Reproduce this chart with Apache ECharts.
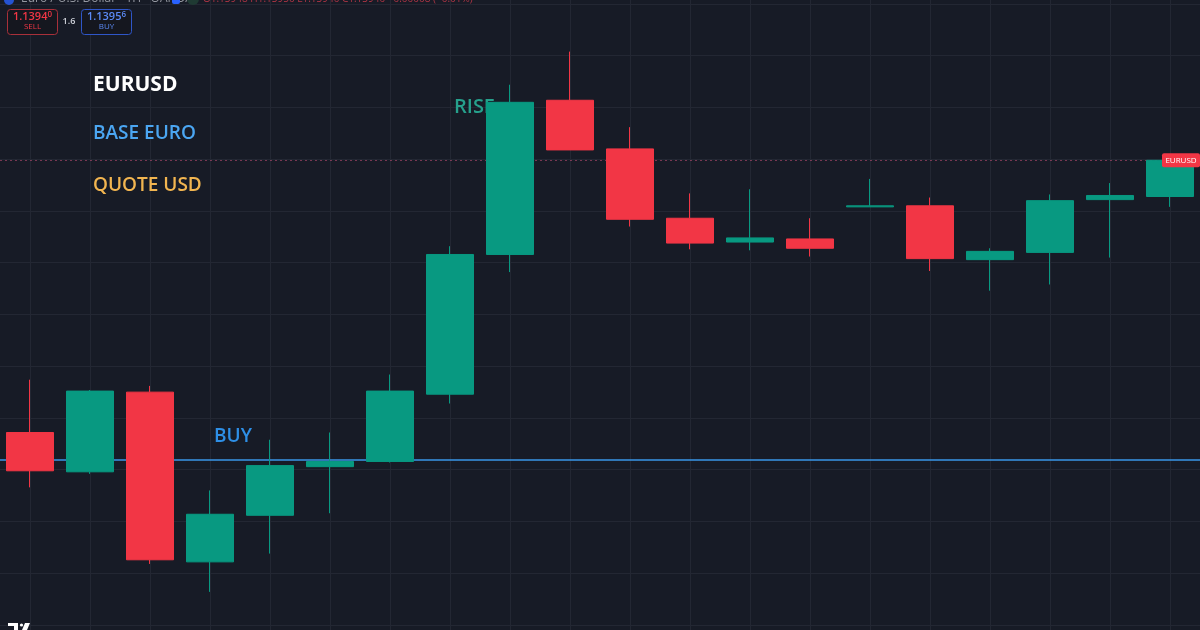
<!DOCTYPE html>
<html>
<head>
<meta charset="utf-8">
<script src="https://cdn.jsdelivr.net/npm/echarts@6/dist/echarts.min.js"></script>
<style>
html,body{margin:0;padding:0;background:#171b26;}
#c{width:1200px;height:630px;}
</style>
</head>
<body>
<div id="c"></div>
<script>
// ---- data ----
const categories = ['00:00','01:00','02:00','03:00','04:00','05:00','06:00','07:00','08:00','09:00',
                    '10:00','11:00','12:00','13:00','14:00','15:00','16:00','17:00','18:00','19:00'];
const opens  = [1.13686,1.13648,1.13725,1.13561,1.13606,1.13653,1.13658,1.13723,1.13858,1.14007,
                1.13960,1.13893,1.13870,1.13873,1.13904,1.13905,1.13853,1.13860,1.13911,1.13914];
const closes = [1.13649,1.13726,1.13563,1.13607,1.13654,1.13658,1.13726,1.13858,1.14005,1.13959,
                1.13892,1.13869,1.13874,1.13864,1.13905,1.13854,1.13861,1.13910,1.13915,1.13949];
const lows   = [1.13633,1.13646,1.13559,1.13532,1.13569,1.13608,1.13657,1.13714,1.13841,1.13959,
                1.13885,1.13863,1.13862,1.13856,1.13904,1.13842,1.13823,1.13829,1.13855,1.13904];
const highs  = [1.13737,1.13727,1.13731,1.13630,1.13679,1.13686,1.13742,1.13866,1.14022,1.14054,
                1.13981,1.13917,1.13921,1.13893,1.13931,1.13913,1.13864,1.13916,1.13927,1.13951];
const buyLevel = 1.13660;
const yMin = 1.1350, yMax = 1.1410, yStep = 0.0005;
const sellQuote = ['1.1394','0'];
const buyQuote  = ['1.1395','6'];
const spread = '1.6';

const candleData = categories.map((c,i)=>[opens[i],closes[i],lows[i],highs[i]]);
const lastClose = closes[closes.length-1];

const UP = '#089981', DOWN = '#f23645';
const FONT = 'Open Sans, Noto Sans, sans-serif';

const chart = echarts.init(document.getElementById('c'), null, {renderer:'canvas'});
const option = {
  backgroundColor: '#171b26',
  animation: false,
  grid: [
    {left:0, right:0, top:4, bottom:5},
    {left:30, right:30, top:0, bottom:0}
  ],
  xAxis: [
    {type:'category', gridIndex:0, data:categories, boundaryGap:true,
     axisLine:{show:false}, axisTick:{show:false}, axisLabel:{show:false}, splitLine:{show:false}},
    {type:'category', gridIndex:1, data:categories, boundaryGap:false,
     axisLine:{show:false}, axisTick:{show:false}, axisLabel:{show:false},
     splitLine:{show:true, interval:0, lineStyle:{color:'#232733', width:1}}}
  ],
  yAxis: [
    {type:'value', gridIndex:0, min:yMin, max:yMax, interval:yStep,
     axisLine:{show:false}, axisTick:{show:false}, axisLabel:{show:false},
     splitLine:{show:true, lineStyle:{color:'#232733', width:1}}},
    {type:'value', gridIndex:1, show:false, splitLine:{show:false}}
  ],
  series: [
    {
      type:'candlestick', xAxisIndex:0, yAxisIndex:0, data:candleData, barWidth:48, z:2,
      itemStyle:{color:UP, color0:DOWN, borderColor:UP, borderColor0:DOWN, borderWidth:1},
      markLine:{
        z:1, symbol:'none', silent:true, animation:false, precision:5,
        label:{show:false},
        data:[
          {yAxis:buyLevel, lineStyle:{color:'#3a97e8', width:1.5, type:'solid'}},
          {yAxis:lastClose, lineStyle:{color:'rgba(200,80,120,0.55)', width:1, type:[2,3]}}
        ]
      }
    }
  ]
};
chart.setOption(option);

const yLast = chart.convertToPixel({yAxisIndex:0}, lastClose);

chart.setOption({
  graphic: [
    // header (cut off at top)
    {type:'circle', z:5, shape:{cx:9, cy:0, r:5}, style:{fill:'#2962ff', opacity:0.8}},
    {type:'text', z:5, left:21, top:-7, style:{text:'Euro / U.S. Dollar · 1H · OANDA', fill:'#9598a1', font:'12px '+FONT}},
    {type:'rect', z:5, shape:{x:172, y:-4, width:8, height:8, r:2}, style:{fill:'#2962ff'}},
    {type:'circle', z:5, shape:{cx:193, cy:-1, r:6}, style:{fill:'#1f3a33'}},
    {type:'text', z:5, left:203, top:-6, style:{text:'O1.13948 H1.13950 L1.13940 C1.13940 −0.00008 (−0.01%)', fill:'#b03545', font:'10px '+FONT}},
    // SELL box
    {type:'rect', z:5, shape:{x:7.5, y:9.5, width:50, height:25, r:3}, style:{fill:'#15171f', stroke:'#a8303a', lineWidth:1}},
    {type:'text', z:6, x:32.5, y:11, style:{text:'{a|'+sellQuote[0]+'}{b|'+sellQuote[1]+'}', align:'center',
      rich:{a:{fill:'#f23645', font:'600 11px '+FONT}, b:{fill:'#f23645', font:'600 8px '+FONT, verticalAlign:'top', padding:[0,0,4,0]}}}},
    {type:'text', z:6, x:32.5, y:23, style:{text:'SELL', align:'center', fill:'#f23645', font:'8px '+FONT}},
    {type:'text', z:6, x:69, y:21, style:{text:spread, align:'center', verticalAlign:'middle', fill:'#d1d4dc', font:'600 9px '+FONT}},
    // BUY box
    {type:'rect', z:5, shape:{x:81.5, y:9.5, width:50, height:25, r:3}, style:{fill:'#15171f', stroke:'#2f56c8', lineWidth:1}},
    {type:'text', z:6, x:106.5, y:11, style:{text:'{a|'+buyQuote[0]+'}{b|'+buyQuote[1]+'}', align:'center',
      rich:{a:{fill:'#5b8af5', font:'600 11px '+FONT}, b:{fill:'#5b8af5', font:'600 8px '+FONT, verticalAlign:'top', padding:[0,0,4,0]}}}},
    {type:'text', z:6, x:106.5, y:23, style:{text:'BUY', align:'center', fill:'#5b8af5', font:'8px '+FONT}},
    // annotations
    {type:'text', z:1, x:93, y:85, style:{text:'EURUSD', fill:'#ffffff', verticalAlign:'middle', font:'bold 21px '+FONT}},
    {type:'text', z:1, x:93, y:134, style:{text:'BASE EURO', fill:'#4ba6f2', verticalAlign:'middle', font:'600 19px '+FONT}},
    {type:'text', z:1, x:93, y:186, style:{text:'QUOTE USD', fill:'#f2b550', verticalAlign:'middle', font:'600 19px '+FONT}},
    {type:'text', z:1, x:214, y:437, style:{text:'BUY', fill:'#2e8fe6', verticalAlign:'middle', font:'600 19px '+FONT}},
    {type:'text', z:1, x:454, y:107, style:{text:'RISE', fill:'#26a08c', verticalAlign:'middle', font:'600 20px '+FONT}},
    // price label on right
    {type:'rect', z:5, shape:{x:1162, y:yLast-7, width:38, height:14, r:2}, style:{fill:'#f23645'}},
    {type:'text', z:6, x:1181, y:yLast, style:{text:'EURUSD', align:'center', verticalAlign:'middle', fill:'#ffffff', font:'8px '+FONT}},
    // logo (bottom left)
    {type:'rect', z:5, shape:{x:8, y:623, width:10, height:3}, style:{fill:'#ffffff'}},
    {type:'rect', z:5, shape:{x:14, y:623, width:4, height:7}, style:{fill:'#ffffff'}},
    {type:'circle', z:5, shape:{cx:21.5, cy:625, r:1.6}, style:{fill:'#ffffff'}},
    {type:'polygon', z:5, shape:{points:[[25,623],[30,623],[27,630],[22,630]]}, style:{fill:'#ffffff'}}
  ]
});
</script>
</body>
</html>
